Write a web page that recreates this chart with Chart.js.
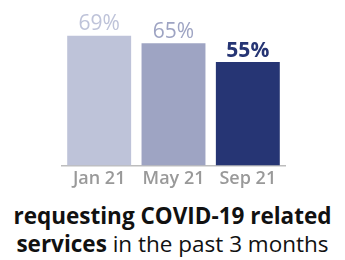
<!DOCTYPE html>
<html>
<head>
<meta charset="utf-8">
<script src="https://cdn.jsdelivr.net/npm/chart.js@4"></script>
<style>
  html, body { margin: 0; padding: 0; background: #fff; }
  #wrap { width: 345px; height: 260px; position: relative; }
  #chartBox { position: absolute; left: 0; top: 0; width: 345px; height: 193px; }
  #caption {
    position: absolute; left: 0; top: 202px; width: 345px;
    text-align: center; font-family: "Open Sans", sans-serif;
    font-size: 22.5px; line-height: 28px; color: #111;
  }
  #caption b { font-weight: 700; }
</style>
</head>
<body>
<div id="wrap">
  <div id="chartBox"><canvas id="surveyChart"></canvas></div>
  <div id="caption"><b>requesting COVID-19 related<br>services</b> in the past 3 months</div>
</div>
<script>
// ===================== DATA =====================
const months = ["Jan 21", "May 21", "Sep 21"];
const shares = [69, 65, 55];
const barColors = ["#bec3d9", "#9ea4c3", "#263574"];
const labelWeights = ["400", "400", "700"];

// ===================== VALUE LABELS ABOVE BARS =====================
const valueLabels = {
  id: "valueLabels",
  afterDatasetsDraw(chart) {
    const ctx = chart.ctx;
    const meta = chart.getDatasetMeta(0);
    ctx.save();
    ctx.textAlign = "center";
    ctx.textBaseline = "bottom";
    meta.data.forEach((bar, i) => {
      ctx.font = labelWeights[i] + " 21px 'Open Sans'";
      ctx.fillStyle = barColors[i];
      ctx.fillText(shares[i] + "%", bar.x, bar.y - 1);
    });
    ctx.restore();
  }
};

// ===================== CHART =====================
const ctxSurvey = document.getElementById("surveyChart").getContext("2d");

new Chart(ctxSurvey, {
  type: "bar",
  data: {
    labels: months,
    datasets: [{
      data: shares,
      backgroundColor: barColors,
      categoryPercentage: 1,
      barPercentage: 0.86
    }]
  },
  options: {
    responsive: true,
    maintainAspectRatio: false,
    animation: false,
    layout: { padding: { left: 62, right: 60, top: 0, bottom: 0 } },
    plugins: {
      legend: { display: false },
      tooltip: { enabled: false }
    },
    scales: {
      x: {
        grid: { display: false, drawTicks: false },
        border: { color: "#bdbdbd", width: 1.5 },
        ticks: {
          color: "#999999",
          padding: 3,
          font: { family: "Open Sans", size: 18, weight: "600" }
        }
      },
      y: {
        display: false,
        min: 0,
        max: 88
      }
    }
  },
  plugins: [valueLabels]
});
</script>
</body>
</html>
